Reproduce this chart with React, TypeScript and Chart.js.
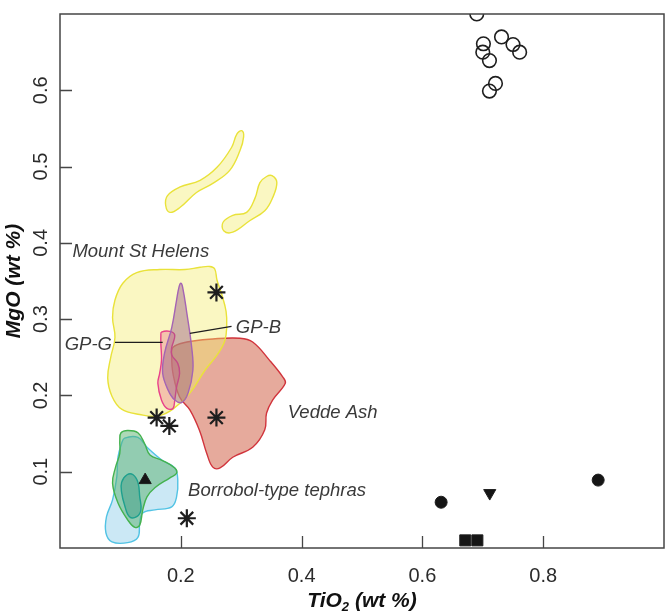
import { useEffect, useRef } from 'react';
import { Chart, registerables } from 'chart.js';

Chart.register(...registerables);

// ---- axes ----
const X_TICKS = [0.2, 0.4, 0.6, 0.8];
const X_TICK_LABELS = ['0.2', '0.4', '0.6', '0.8'];
const Y_TICKS = [0.1, 0.2, 0.3, 0.4, 0.5, 0.6];
const Y_TICK_LABELS = ['0.1', '0.2', '0.3', '0.4', '0.5', '0.6'];
const X_RANGE = [0, 1.0];
const Y_RANGE = [0, 0.7];

// ---- fields (TiO2, MgO) ----
const MSH_MAIN: [number, number][] = [
  [0.104, 0.347], [0.127, 0.361], [0.165, 0.365], [0.207, 0.365], [0.232, 0.368], [0.248, 0.369],
  [0.256, 0.366], [0.260, 0.351], [0.268, 0.332], [0.275, 0.310], [0.276, 0.291], [0.273, 0.272],
  [0.261, 0.254], [0.240, 0.233], [0.215, 0.203], [0.187, 0.182], [0.162, 0.173], [0.132, 0.175],
  [0.102, 0.182], [0.086, 0.199], [0.079, 0.223], [0.084, 0.250], [0.091, 0.276], [0.087, 0.302],
  [0.091, 0.325],
];
const MSH_BLOB1: [number, number][] = [
  [0.301, 0.547], [0.304, 0.539], [0.298, 0.521], [0.281, 0.495], [0.253, 0.478], [0.226, 0.466],
  [0.198, 0.446], [0.182, 0.440], [0.175, 0.449], [0.178, 0.462], [0.198, 0.473], [0.232, 0.482],
  [0.260, 0.499], [0.284, 0.525], [0.293, 0.543],
];
const MSH_BLOB2: [number, number][] = [
  [0.351, 0.488], [0.359, 0.479], [0.352, 0.459], [0.339, 0.442], [0.314, 0.429], [0.286, 0.414],
  [0.271, 0.416], [0.270, 0.427], [0.286, 0.436], [0.309, 0.440], [0.323, 0.459], [0.331, 0.479],
  [0.342, 0.487],
];
const VEDDE: [number, number][] = [
  [0.187, 0.263], [0.210, 0.270], [0.253, 0.274], [0.298, 0.275], [0.319, 0.270], [0.347, 0.246],
  [0.369, 0.224], [0.373, 0.216], [0.352, 0.194], [0.342, 0.177], [0.339, 0.155], [0.319, 0.132],
  [0.286, 0.119], [0.265, 0.105], [0.253, 0.106], [0.243, 0.124], [0.231, 0.154], [0.215, 0.181],
  [0.198, 0.198], [0.187, 0.229], [0.185, 0.250],
];
const GP_B: [number, number][] = [
  [0.200, 0.347], [0.203, 0.342], [0.210, 0.308], [0.218, 0.263], [0.220, 0.233], [0.212, 0.203],
  [0.202, 0.191], [0.190, 0.194], [0.179, 0.207], [0.170, 0.229], [0.173, 0.255], [0.185, 0.289],
  [0.193, 0.325], [0.197, 0.342],
];
const GP_G: [number, number][] = [
  [0.168, 0.283], [0.182, 0.284], [0.190, 0.279], [0.185, 0.263], [0.185, 0.253], [0.195, 0.242],
  [0.198, 0.229], [0.193, 0.211], [0.190, 0.194], [0.187, 0.183], [0.177, 0.183], [0.168, 0.194],
  [0.162, 0.216], [0.165, 0.229], [0.168, 0.246], [0.167, 0.268], [0.167, 0.279],
];
const BOR_BLUE: [number, number][] = [
  [0.107, 0.144], [0.129, 0.145], [0.144, 0.132], [0.169, 0.115], [0.190, 0.105], [0.195, 0.089],
  [0.193, 0.067], [0.185, 0.054], [0.157, 0.050], [0.137, 0.046], [0.132, 0.033], [0.129, 0.014],
  [0.112, 0.007], [0.086, 0.008], [0.076, 0.020], [0.077, 0.041], [0.087, 0.063], [0.094, 0.093],
  [0.096, 0.119], [0.102, 0.137],
];
const BOR_GREEN: [number, number][] = [
  [0.101, 0.151], [0.112, 0.154], [0.129, 0.151], [0.140, 0.137], [0.149, 0.122], [0.169, 0.115],
  [0.190, 0.105], [0.193, 0.098], [0.182, 0.092], [0.157, 0.079], [0.144, 0.067], [0.137, 0.050],
  [0.132, 0.030], [0.124, 0.027], [0.112, 0.037], [0.096, 0.059], [0.087, 0.085], [0.092, 0.106],
  [0.099, 0.124], [0.099, 0.141],
];
const BOR_TEAL: [number, number][] = [
  [0.111, 0.096], [0.121, 0.096], [0.129, 0.086], [0.132, 0.067], [0.134, 0.050], [0.127, 0.041],
  [0.115, 0.041], [0.107, 0.056], [0.102, 0.073], [0.102, 0.086],
];

// ---- samples ----
const OPEN_CIRCLES: [number, number][] = [
  [0.690, 0.700], [0.701, 0.661], [0.700, 0.650], [0.711, 0.639], [0.731, 0.670],
  [0.750, 0.660], [0.761, 0.650], [0.721, 0.609], [0.711, 0.599],
];
const STARS: [number, number][] = [
  [0.259, 0.335], [0.160, 0.171], [0.181, 0.160], [0.259, 0.171], [0.210, 0.039],
];
const TRIANGLES: [number, number][] = [[0.141, 0.089]];
const DOTS: [number, number][] = [[0.631, 0.060], [0.891, 0.089]];
const INV_TRIANGLES: [number, number][] = [[0.7115, 0.072]];
const SQUARES: [number, number][] = [[0.671, 0.010], [0.691, 0.010]];

// ---- labels & leader lines ----
const LEADER_GPG: [number, number][] = [[0.091, 0.2696], [0.170, 0.2696]];
const LEADER_GPB: [number, number][] = [[0.215, 0.2814], [0.284, 0.2906]];
const ANNOTATIONS = [
  { text: 'Mount St Helens', x: 0.0205, y: 0.381 },
  { text: 'GP-G', x: 0.0078, y: 0.260 },
  { text: 'GP-B', x: 0.291, y: 0.2818 },
  { text: 'Vedde Ash', x: 0.377, y: 0.1706 },
  { text: 'Borrobol-type tephras', x: 0.212, y: 0.068 },
];

const FONT = '"Liberation Sans", Arial, Helvetica, sans-serif';
const toXY = (a: [number, number][]) => a.map(([x, y]) => ({ x, y }));

function field(data: [number, number][], fill: string, border: string) {
  return {
    data: toXY(data),
    showLine: true,
    closed: true,
    fill: 'shape',
    tension: 0.4,
    backgroundColor: fill,
    borderColor: border,
    borderWidth: 1.4,
    pointRadius: 0,
    pointHoverRadius: 0,
  };
}

function marks(data: [number, number][], style: string, radius: number, filled: boolean, extra: any = {}) {
  return {
    data: toXY(data),
    showLine: false,
    pointStyle: style,
    pointRadius: radius,
    pointHoverRadius: radius,
    pointBackgroundColor: filled ? '#151515' : 'rgba(0,0,0,0)',
    pointBorderColor: '#1e1e1e',
    pointBorderWidth: filled ? 1 : 1.6,
    ...extra,
  };
}

function leader(data: [number, number][]) {
  return {
    data: toXY(data),
    showLine: true,
    fill: false,
    borderColor: '#1e1e1e',
    borderWidth: 1.2,
    pointRadius: 0,
    pointHoverRadius: 0,
  };
}

const closedShapesPlugin = {
  id: 'closedShapes',
  afterDatasetsUpdate(chart: any) {
    chart.data.datasets.forEach((ds: any, i: number) => {
      if (!ds.closed) return;
      const el = chart.getDatasetMeta(i).dataset;
      if (!el) return;
      el._loop = true;
      el._fullLoop = true;
      el._pointsUpdated = false;
      el._segments = undefined;
      el._path = undefined;
    });
  },
};

const decorPlugin = {
  id: 'decor',
  afterDatasetsDraw(chart: any) {
    const { ctx, scales } = chart;
    const xs = scales.x;
    const ys = scales.y;
    ctx.save();
    ctx.fillStyle = '#3a3a3a';
    ctx.font = `italic 18.5px ${FONT}`;
    ctx.textAlign = 'left';
    ctx.textBaseline = 'alphabetic';
    ANNOTATIONS.forEach((t) => {
      ctx.fillText(t.text, xs.getPixelForValue(t.x), ys.getPixelForValue(t.y));
    });
    ctx.restore();
  },
  afterDraw(chart: any) {
    const { ctx, chartArea: a, scales } = chart;
    const xs = scales.x;
    const ys = scales.y;
    ctx.save();
    ctx.strokeStyle = '#464646';
    ctx.lineWidth = 1.5;
    ctx.strokeRect(a.left, a.top, a.right - a.left, a.bottom - a.top);
    ctx.lineWidth = 1.3;
    ctx.beginPath();
    X_TICKS.forEach((v) => {
      const px = Math.round(xs.getPixelForValue(v)) + 0.5;
      ctx.moveTo(px, a.bottom);
      ctx.lineTo(px, a.bottom - 12);
    });
    Y_TICKS.forEach((v) => {
      const py = Math.round(ys.getPixelForValue(v)) + 0.5;
      ctx.moveTo(a.left, py);
      ctx.lineTo(a.left + 12, py);
    });
    ctx.stroke();

    ctx.fillStyle = '#2b2b2b';
    ctx.font = `20px ${FONT}`;
    ctx.textAlign = 'center';
    ctx.textBaseline = 'alphabetic';
    X_TICKS.forEach((v, i) => {
      ctx.fillText(X_TICK_LABELS[i], xs.getPixelForValue(v), a.bottom + 34);
    });
    Y_TICKS.forEach((v, i) => {
      ctx.save();
      ctx.translate(a.left - 13, ys.getPixelForValue(v));
      ctx.rotate(-Math.PI / 2);
      ctx.fillText(Y_TICK_LABELS[i], 0, 0);
      ctx.restore();
    });

    ctx.fillStyle = '#111';
    const main = `italic bold 21px ${FONT}`;
    const sub = `italic bold 13px ${FONT}`;
    ctx.textAlign = 'left';
    ctx.font = main;
    const p1 = 'TiO';
    const p3 = ' (wt %)';
    const w1 = ctx.measureText(p1).width;
    const w3 = ctx.measureText(p3).width;
    ctx.font = sub;
    const w2 = ctx.measureText('2').width;
    const cx = (a.left + a.right) / 2;
    const sx = cx - (w1 + w2 + w3) / 2;
    const base = a.bottom + 59;
    ctx.font = main;
    ctx.fillText(p1, sx, base);
    ctx.font = sub;
    ctx.fillText('2', sx + w1, base + 4);
    ctx.font = main;
    ctx.fillText(p3, sx + w1 + w2, base);

    ctx.save();
    ctx.translate(20, (a.top + a.bottom) / 2);
    ctx.rotate(-Math.PI / 2);
    ctx.textAlign = 'center';
    ctx.fillText('MgO (wt %)', 0, 0);
    ctx.restore();
    ctx.restore();
  },
};

export default function App() {
  const ref = useRef<HTMLCanvasElement | null>(null);
  useEffect(() => {
    if (!ref.current) return;
    const datasets: any[] = [
      marks(OPEN_CIRCLES, 'circle', 6.8, false, { clip: 0 }),
      marks(STARS, 'star', 9, false, { pointBorderWidth: 2.2 }),
      marks(TRIANGLES, 'triangle', 7, true),
      marks(DOTS, 'circle', 6, true),
      marks(INV_TRIANGLES, 'triangle', 7, true, { pointRotation: 180 }),
      marks(SQUARES, 'rect', 7.8, true),
      leader(LEADER_GPG),
      leader(LEADER_GPB),
      field(BOR_TEAL, 'rgba(55,155,130,0.45)', '#1fa08e'),
      field(BOR_GREEN, 'rgba(85,175,105,0.48)', '#44b24e'),
      field(BOR_BLUE, 'rgba(130,200,230,0.42)', '#52c3e4'),
      field(GP_B, 'rgba(150,90,130,0.45)', '#a464b4'),
      field(GP_G, 'rgba(235,120,140,0.40)', '#e8418a'),
      field(MSH_BLOB1, 'rgba(242,236,110,0.42)', '#e9e23a'),
      field(MSH_BLOB2, 'rgba(242,236,110,0.42)', '#e9e23a'),
      field(MSH_MAIN, 'rgba(242,236,110,0.42)', '#e9e23a'),
      field(VEDDE, 'rgba(210,100,75,0.55)', '#d1343c'),
    ];
    const chart = new Chart(ref.current, {
      type: 'scatter',
      data: { datasets },
      options: {
        responsive: false,
        animation: false,
        devicePixelRatio: 1,
        events: [],
        layout: { autoPadding: false, padding: { left: 60, top: 14, right: 1, bottom: 66 } },
        scales: {
          x: { type: 'linear', min: X_RANGE[0], max: X_RANGE[1], display: false },
          y: { type: 'linear', min: Y_RANGE[0], max: Y_RANGE[1], display: false },
        },
        plugins: { legend: { display: false }, tooltip: { enabled: false } },
      } as any,
      plugins: [closedShapesPlugin, decorPlugin],
    });
    return () => chart.destroy();
  }, []);
  return (
    <div style={{ position: 'absolute', left: 0, top: 0, width: 665, height: 614, background: '#fff' }}>
      <canvas ref={ref} width={665} height={614} style={{ display: 'block' }} />
    </div>
  );
}
